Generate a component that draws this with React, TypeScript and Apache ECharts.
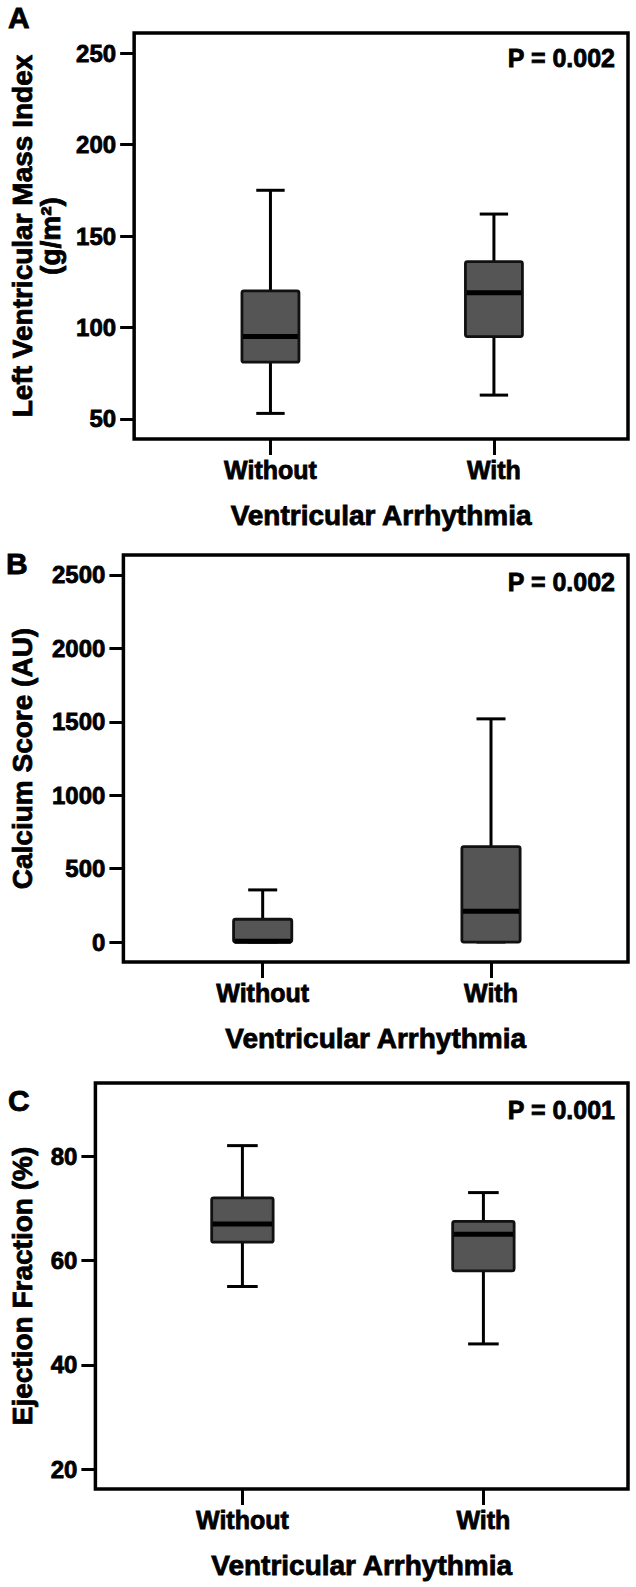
import React, { useEffect, useRef } from "react";
import * as echarts from "echarts";

// ---- data ----
const categories = ["Without", "With"];
// [min, Q1, median, Q3, max]
const lvmiWithout = [53, 81, 95, 120, 175];
const lvmiWith = [63, 95, 119, 136, 162];
const calciumWithout = [0, 0, 5, 155, 355];
const calciumWith = [0, 0, 210, 650, 1520];
const efWithout = [55, 63.5, 67, 72, 82];
const efWith = [44, 58, 65, 67.5, 73];

const lvmiTicks = [50, 100, 150, 200, 250];
const calciumTicks = [0, 500, 1000, 1500, 2000, 2500];
const efTicks = [20, 40, 60, 80];

const pValues = ["P = 0.002", "P = 0.002", "P = 0.001"];
const panelLetters = ["A", "B", "C"];
const yTitles = [
  "Left Ventricular Mass Index\n(g/m²)",
  "Calcium Score (AU)",
  "Ejection Fraction (%)",
];
const xTitle = "Ventricular Arrhythmia";

const FONT = "'Liberation Sans', Arial, Helvetica, sans-serif";
const HEAVY = { textBorderColor: "#000", textBorderWidth: 0.8 };

const renderBox = (params: any, api: any) => {
  const x = api.value(0);
  const pts = [1, 2, 3, 4, 5].map((i) => api.coord([x, api.value(i)]));
  const [lo, q1, med, q3, hi] = pts;
  const boxW = api.size([0.255, 0])[0];
  const capW = api.size([0.127, 0])[0];
  const cx = lo[0];
  const ls = { stroke: "#000", lineWidth: 3 };
  return {
    type: "group",
    children: [
      { type: "line", shape: { x1: cx, y1: lo[1], x2: cx, y2: q1[1] }, style: ls },
      { type: "line", shape: { x1: cx, y1: q3[1], x2: cx, y2: hi[1] }, style: ls },
      { type: "line", shape: { x1: cx - capW / 2, y1: lo[1], x2: cx + capW / 2, y2: lo[1] }, style: ls },
      { type: "line", shape: { x1: cx - capW / 2, y1: hi[1], x2: cx + capW / 2, y2: hi[1] }, style: ls },
      {
        type: "rect",
        shape: { x: cx - boxW / 2, y: q3[1], width: boxW, height: q1[1] - q3[1], r: 2 },
        style: { fill: "#555555", stroke: "#111", lineWidth: 2.8 },
      },
      {
        type: "line",
        shape: { x1: cx - boxW / 2 + 1, y1: med[1], x2: cx + boxW / 2 - 1, y2: med[1] },
        style: { stroke: "#000", lineWidth: 5 },
      },
    ],
  };
};

const panels = [
  { grid: { left: 132, top: 33, width: 496, height: 406 }, yMin: 39, yMax: 261, ticks: lvmiTicks, data: [lvmiWithout, lvmiWith], nameGap: 69 },
  { grid: { left: 117, top: 555, width: 511, height: 407 }, yMin: -136, yMax: 2636, ticks: calciumTicks, data: [calciumWithout, calciumWith], nameGap: 87 },
  { grid: { left: 91, top: 1083, width: 537, height: 406 }, yMin: 16.2, yMax: 94, ticks: efTicks, data: [efWithout, efWith], nameGap: 59 },
];

const pTextY = [58, 582, 1109.5];
const letterPos = [
  { x: 8, y: 17.5 },
  { x: 6, y: 563.5 },
  { x: 8, y: 1100 },
];

export default function App() {
  const ref = useRef<HTMLDivElement>(null);
  useEffect(() => {
    if (!ref.current) return;
    const chart = echarts.init(ref.current, null, { renderer: "svg" });
    const grids: any[] = [];
    const xAxes: any[] = [];
    const yAxes: any[] = [];
    const series: any[] = [];
    panels.forEach((p, i) => {
      grids.push({ ...p.grid, show: true, borderColor: "#000", borderWidth: 3.5, containLabel: false });
      xAxes.push({
        type: "value",
        gridIndex: i,
        position: "bottom",
        min: -0.61,
        max: 1.6,
        axisLine: { show: false, onZero: false },
        splitLine: { show: false },
        axisTick: { show: true, customValues: [0, 1], length: 16, lineStyle: { color: "#000", width: 3 } },
        axisLabel: {
          customValues: [0, 1],
          formatter: (v: number) => categories[Math.round(v)] ?? "",
          fontSize: 25,
          fontWeight: "bold",
          fontFamily: FONT,
          color: "#000",
          margin: 18,
          ...HEAVY,
        },
        name: xTitle,
        nameLocation: "middle",
        nameGap: 62,
        nameTextStyle: { fontSize: 28, fontWeight: "bold", fontFamily: FONT, color: "#000", ...HEAVY },
      });
      yAxes.push({
        type: "value",
        gridIndex: i,
        position: "left",
        min: p.yMin,
        max: p.yMax,
        axisLine: { show: false, onZero: false },
        splitLine: { show: false },
        axisTick: { show: true, customValues: p.ticks, length: 14, lineStyle: { color: "#000", width: 3 } },
        axisLabel: {
          customValues: p.ticks,
          formatter: (v: number) => String(v),
          fontSize: 24,
          fontWeight: "bold",
          fontFamily: FONT,
          color: "#000",
          margin: 18,
          ...HEAVY,
        },
        name: yTitles[i],
        nameLocation: "middle",
        nameGap: p.nameGap,
        nameTextStyle: { fontSize: 28, fontWeight: "bold", fontFamily: FONT, color: "#000", lineHeight: 28, ...HEAVY },
      });
      series.push({
        type: "custom",
        xAxisIndex: i,
        yAxisIndex: i,
        renderItem: renderBox,
        encode: { x: 0, y: [1, 2, 3, 4, 5] },
        data: p.data.map((d, k) => [k, ...d]),
        silent: true,
      });
    });
    const graphics: any[] = [];
    pValues.forEach((t, i) => {
      graphics.push({
        type: "text",
        x: 615,
        y: pTextY[i],
        style: {
          text: t,
          fill: "#000",
          stroke: "#000",
          lineWidth: 0.8,
          font: `bold 25px ${FONT}`,
          textAlign: "right",
          textVerticalAlign: "middle",
        },
      });
    });
    panelLetters.forEach((t, i) => {
      graphics.push({
        type: "text",
        x: letterPos[i].x,
        y: letterPos[i].y,
        style: {
          text: t,
          fill: "#000",
          stroke: "#000",
          lineWidth: 0.8,
          font: `bold 30px ${FONT}`,
          textAlign: "left",
          textVerticalAlign: "middle",
        },
      });
    });
    chart.setOption({
      animation: false,
      backgroundColor: "#fff",
      grid: grids,
      xAxis: xAxes,
      yAxis: yAxes,
      series,
      graphic: graphics,
    });
    return () => chart.dispose();
  }, []);
  return <div ref={ref} style={{ position: "absolute", left: 0, top: 0, width: 636, height: 1587 }} />;
}
